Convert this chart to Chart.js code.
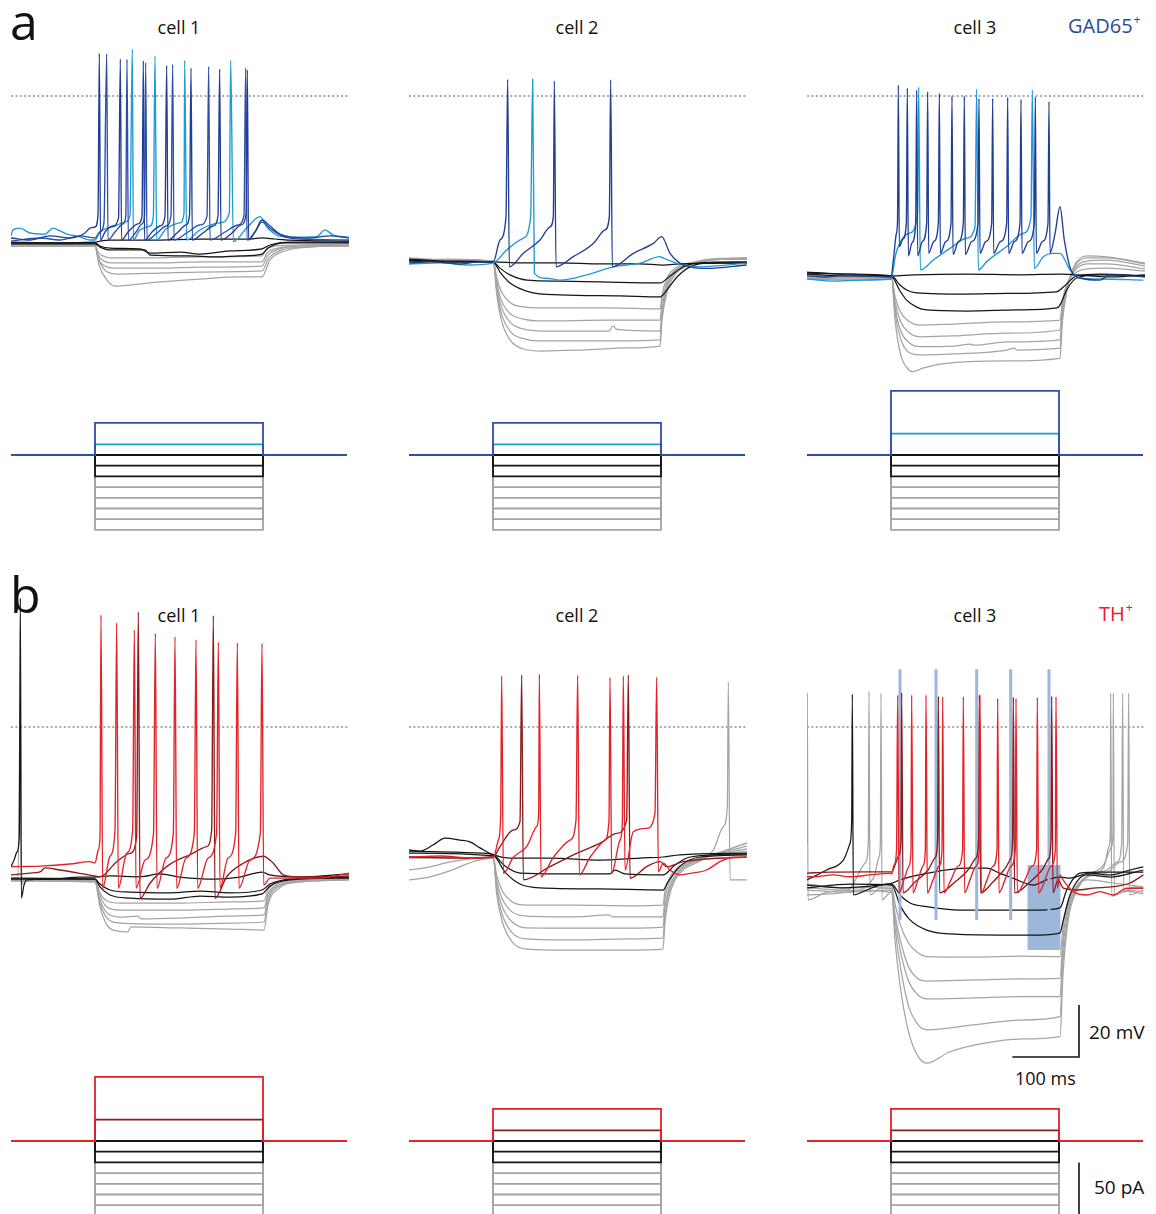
<!DOCTYPE html>
<html>
<head>
<meta charset="utf-8">
<title>Current-clamp responses of GAD65+ and TH+ cells</title>
<script src="https://cdn.jsdelivr.net/npm/chart.js@4.4.1/dist/chart.umd.min.js"></script>
<style>
  html, body { margin: 0; padding: 0; background: #fff; width: 1156px; height: 1214px; overflow: hidden; }
  body { position: relative; font-family: "Open Sans", "DejaVu Sans", sans-serif; color: #111; }
  canvas { position: absolute; }
  .lbl { position: absolute; white-space: nowrap; line-height: 1; }
  .sup { font-size: 0.62em; position: relative; top: -0.75em; margin-left: 1px; }
</style>
</head>
<body>
<div class="lbl" style="left:10px;top:-4px;font-size:50px">a</div>
<div class="lbl" style="left:10px;top:569px;font-size:50px">b</div>
<div class="lbl" style="left:179px;top:18px;font-size:18px;transform:translateX(-50%)">cell 1</div>
<div class="lbl" style="left:577px;top:18px;font-size:18px;transform:translateX(-50%)">cell 2</div>
<div class="lbl" style="left:975px;top:18px;font-size:18px;transform:translateX(-50%)">cell 3</div>
<div class="lbl" style="left:1068px;top:16px;font-size:20px;color:#2b4c9c">GAD65<span class="sup">+</span></div>
<div class="lbl" style="left:179px;top:606px;font-size:18px;transform:translateX(-50%)">cell 1</div>
<div class="lbl" style="left:577px;top:606px;font-size:18px;transform:translateX(-50%)">cell 2</div>
<div class="lbl" style="left:975px;top:606px;font-size:18px;transform:translateX(-50%)">cell 3</div>
<div class="lbl" style="left:1099px;top:604px;font-size:20px;color:#e42229">TH<span class="sup">+</span></div>
<div class="lbl" style="left:1089px;top:1023px;font-size:19px">20 mV</div>
<div class="lbl" style="left:1015px;top:1069px;font-size:18px">100 ms</div>
<div class="lbl" style="left:1094px;top:1178px;font-size:19px">50 pA</div>

<script>
// ---------------------------------------------------------------
// Sweep timing and injected current steps (pA)
// ---------------------------------------------------------------
const T_END = 507;                 // ms shown in each panel
const STEP_ON = 126, STEP_OFF = 378;
const graySteps  = [-30, -40, -50, -60, -70];
const blackSteps = [0, -10, -20];
const aTopSteps  = [30, 30, 60];   // dark blue sweep, cells 1-3
const aMidSteps  = [10, 10, 20];   // light blue sweep
const bTopSteps  = [60, 30, 30];   // red sweep
const bMidSteps  = [20, 10, 10];   // dark red sweep

// ---------------------------------------------------------------
// Membrane potential sweeps, flat [t (ms), Vm (mV), ...]
// ---------------------------------------------------------------
// GAD65+ cell 1
const a1Gray = [
  [0,-56.9, 126,-56.9, 130.5,-60, 138,-61.5, 148.5,-62.3, 208.5,-62.3, 283.5,-61.9, 376.5,-61.5, 382.5,-59.2, 396,-57.7, 433.5,-57.3, 507,-56.9],
  [0,-57.3, 126,-57.3, 130.5,-61.2, 139.5,-63.5, 151.5,-64.2, 223.5,-64.2, 283.5,-63.8, 376.5,-63.8, 384,-60.4, 400.5,-58.5, 433.5,-57.7, 507,-57.3],
  [0,-57.3, 126,-57.3, 130.5,-62.3, 141,-65.4, 156,-66.2, 223.5,-66.2, 283.5,-65.8, 376.5,-65.4, 385.5,-61.2, 403.5,-58.8, 433.5,-57.7, 507,-57.3],
  [0,-57.7, 126,-57.7, 132,-63.1, 142.5,-67.3, 160.5,-68.5, 223.5,-68.1, 283.5,-67.7, 376.5,-67.3, 387,-62.3, 406.5,-59.2, 441,-58.1, 507,-57.7],
  [0,-57.7, 126,-57.7, 132,-65, 144,-70.8, 156,-73.1, 178.5,-72.7, 223.5,-71.5, 283.5,-70.4, 343.5,-69.6, 376.5,-69.6, 388.5,-63.1, 411,-59.6, 448.5,-58.1, 507,-57.7]
];
const a1Black = [
  [0,-56.2, 58.5,-56.5, 126,-56.2, 133.5,-55.8, 148.5,-55.4, 208.5,-55.4, 283.5,-55, 358.5,-55, 376.5,-54.6, 396,-55, 418.5,-55.4, 507,-55.8],
  [0,-56.5, 126,-56.5, 133.5,-57.7, 148.5,-58.5, 193.5,-58.8, 208.5,-60.4, 253.5,-60, 283.5,-60.8, 328.5,-59.6, 376.5,-58.8, 388.5,-57.3, 418.5,-56.2, 507,-56.2],
  [0,-56.9, 126,-56.9, 133.5,-58.1, 148.5,-59.2, 201,-59.2, 208.5,-61.2, 268.5,-61.5, 306,-61.9, 343.5,-61.5, 376.5,-60.8, 385.5,-58.5, 411,-56.5, 507,-56.5]
];
const a1Blue = [
  [0,-54.6, 28.5,-55.4, 58.5,-53.8, 88.5,-54.6, 111,-52.7, 118.5,-50.8, 126,-50.4, 130.5,-45.8, 132.5,16.4, 134.3,-55.4,
   141,-52.3, 153,-50, 161.3,-46.9, 164,14.2, 165.8,-55.4, 175.5,-52.3, 190.5,-49.2, 196.5,-46.2, 198.5,13.5, 200.3,-55.4,
   211.5,-52.3, 223.5,-50, 231,-46.2, 233.5,11.7, 235.5,-55.4, 249,-52.7, 262.5,-49.6, 267.8,-45.8, 270,10.7, 272,-55.4,
   288,-52.7, 303,-50, 310.5,-46.2, 313,10.4, 315,-55.4, 331.5,-52.7, 345,-49.6, 352.5,-45.4, 354.5,10, 356.3,-55.4,
   366,-52.3, 376.5,-47.7, 388.5,-50, 403.5,-53.1, 418.5,-54.2, 448.5,-54.6, 478.5,-53.8, 507,-54.6],
  [0,-55.8, 43.5,-54.6, 73.5,-55.4, 103.5,-53.8, 126,-54.6, 133.5,-52.3, 139.5,-48.5, 143.5,16.2, 145.5,-55.4,
   156,-52.3, 168,-49.2, 172.2,-46.2, 174,14.2, 176,-55.4, 187.5,-52.3, 196.5,-49.2, 200.3,-46.2, 202,12.8, 204,-55.4,
   219,-52.7, 232.5,-50, 240,-46.2, 242.5,12.2, 244.5,-55.4, 265.5,-52.3, 283.5,-49.6, 294,-46.2, 296.5,11.3, 298.5,-55.4,
   321,-52.3, 340.5,-49.6, 349.5,-45.8, 352,10.7, 354,-55.4, 366,-52.3, 376.5,-48.5, 391.5,-51.5, 411,-54.2, 433.5,-55, 507,-55.4]
];
const a1Cyan = [
  [0,-53.8, 3,-51.5, 13.5,-50.8, 28.5,-52.7, 51,-53.1, 63,-50.8, 73.5,-51.9, 84,-53.1, 103.5,-54.2, 118.5,-55.4, 126,-55.4,
   133.5,-52.3, 156,-50, 171,-48.5, 178.5,-45.8, 182,18, 183.5,-55.4, 193.5,-51.5, 208.5,-50, 213.5,-46.4, 216,15.4, 218.5,-55.4,
   233.5,-50.8, 253.5,-48.8, 259.5,-45, 260.5,13.7, 263.5,-55.4, 283.5,-51.5, 313.5,-48.8, 327.5,-45, 329.5,13.7, 333.5,-56,
   353.5,-50.8, 373.5,-46.4, 383.5,-50.3, 398.5,-53.5, 418.5,-54.3, 458.5,-54.1, 471,-51.5, 483.5,-53.5, 506,-54.3]
];

// GAD65+ cell 2
const a2Gray = [
  [0,-63.1, 60,-62.7, 126.5,-63.5, 131.5,-69.8, 138.5,-75.2, 151.5,-79.4, 171.5,-81.1, 200,-81.5, 300,-81.5, 376.5,-81.9, 379.5,-76.5, 387,-70, 399,-66.2, 421.5,-64.2, 451.5,-63.1, 507,-62.7],
  [0,-62.7, 60,-63.1, 126.5,-63.5, 131.5,-71.5, 138.5,-78.5, 151.5,-83.6, 171.5,-85.8, 200,-86.5, 300,-86.2, 376.5,-86.2, 379.5,-79.2, 387,-71.5, 399,-67, 421.5,-64.6, 451.5,-63.1, 507,-62.3],
  [0,-62.3, 60,-63.1, 126.5,-63.5, 131.5,-73, 138.5,-81, 151.5,-87, 171.5,-89.6, 200,-90.4, 300,-90.4, 306,-88.5, 312,-89.8, 376.5,-90.4, 379.5,-82.2, 387,-72.9, 399,-67.5, 421.5,-64.6, 451.5,-62.7, 507,-62.3],
  [0,-62.7, 60,-63.5, 126.5,-63.8, 131.5,-74.6, 138.5,-83.6, 151.5,-90.4, 171.5,-93.3, 200,-94.2, 300,-94.2, 376.5,-93.8, 379.5,-84.6, 387,-74.2, 399,-68.1, 421.5,-64.6, 451.5,-63.1, 507,-62.7],
  [0,-63.1, 60,-63.8, 126.5,-63.8, 131.5,-76, 138.5,-86.2, 151.5,-93.8, 171.5,-97.3, 200,-98.1, 260,-97.7, 330,-96.9, 376.5,-96.2, 379.5,-86.2, 387,-75.4, 399,-68.8, 421.5,-65, 451.5,-63.1, 507,-62.7]
];
const a2Black = [
  [0,-63.5, 61.5,-63.8, 126,-63.8, 166.5,-64.2, 226.5,-64.2, 286.5,-64.6, 346.5,-64.6, 381,-65, 406.5,-64.6, 507,-64.2],
  [0,-62.7, 61.5,-63.5, 126,-63.8, 136.5,-66.2, 151.5,-68.8, 177,-70.8, 226.5,-71.2, 286.5,-71.5, 376.5,-71.9, 391.5,-69.2, 414,-65.4, 436.5,-64.2, 507,-63.8],
  [0,-63.1, 61.5,-63.8, 126,-63.8, 136.5,-67.7, 151.5,-71.9, 181.5,-75.4, 226.5,-76.5, 316.5,-76.9, 376.5,-77.3, 387,-74.6, 402,-69.6, 421.5,-65.7, 451.5,-64.2, 507,-64.2]
];
const a2Blue = [
  [0,-64.2, 31.5,-63.8, 76.5,-64.6, 106.5,-63.8, 126.5,-63.8, 136.5,-55.4, 145.5,-46.4, 148,6.4, 150.5,-65.7,
   171.5,-60.5, 196.5,-55.4, 211.5,-50.3, 216.5,-46.4, 218,5.8, 220.5,-65.7, 246.5,-61.8, 276.5,-56.7, 294,-51.5, 300.5,-46.4,
   302.5,6.2, 305,-65.7, 336.5,-60.5, 366.5,-56.7, 379,-54.1, 391.5,-60.5, 406.5,-64.3, 421.5,-65.7, 446.5,-66.3, 506.5,-65]
];
const a2Cyan = [
  [0,-64.6, 46.5,-64.2, 91.5,-65, 126.5,-64.2, 146.5,-59.2, 171.5,-54.7, 182.5,-46.4, 185.5,6.5, 188,-68.2, 206.5,-70.1,
   226.5,-70.8, 266.5,-68.8, 306.5,-65.7, 346.5,-64.3, 376.5,-61.8, 381,-62.3, 411.5,-65, 436.5,-65.7, 506.5,-64.3]
];

// GAD65+ cell 3
const a3Gray = [
  [0,-69.2, 60,-69.6, 127,-69.6, 132,-77, 140,-83, 152,-86.5, 170,-88.1, 220,-87.7, 300,-86.9, 379.5,-86.2, 383,-79, 390,-72, 400,-68.5, 420,-66.5, 450,-66.2, 507,-67.3],
  [0,-69.6, 60,-70, 127,-69.6, 132,-79, 140,-86.5, 152,-90.8, 170,-92.6, 220,-92.3, 300,-91.2, 379.5,-90, 383,-81, 390,-73, 400,-67.7, 420,-64.6, 450,-64.6, 507,-66.5],
  [0,-68.8, 60,-69.6, 127,-70, 132,-81, 140,-90, 152,-94.6, 170,-96.4, 220,-96.2, 245,-95.4, 250,-95.8, 300,-94.6, 379.5,-93.8, 383,-83, 390,-73.5, 400,-66.9, 420,-63.5, 450,-63.1, 507,-65.4],
  [0,-70, 60,-70.4, 127,-70, 132,-83, 140,-93, 152,-98.5, 170,-99.6, 220,-99.2, 300,-97.7, 310,-97, 315,-97.7, 379.5,-97, 383,-85, 390,-74.2, 400,-66.2, 420,-62.3, 450,-62.3, 507,-64.6],
  [0,-70.4, 60,-70.8, 127,-70.4, 132,-86, 140,-99, 150,-104.6, 158,-106, 175,-104.6, 200,-103.1, 300,-101.9, 379.5,-100.9, 383,-87, 390,-75, 400,-65.8, 420,-61.5, 450,-61.9, 507,-64.2]
];
const a3Black = [
  [0,-68.1, 60,-68.5, 127,-69.2, 160,-68.8, 240,-68.5, 320,-68.8, 379.5,-68.5, 404.5,-68.8, 460,-69.6, 507,-68.8],
  [0,-67.7, 60,-68.5, 127,-69.2, 139.5,-72.7, 149.5,-74.6, 164.5,-75.7, 239.5,-76.2, 300,-75.9, 374.5,-75.3, 384.5,-73.5, 404.5,-69.2, 440,-68.5, 507,-69.2],
  [0,-68.5, 60,-69.2, 127,-69.6, 139.5,-75, 149.5,-78.5, 164.5,-81.2, 179.5,-82.3, 239.5,-82.7, 314.5,-82.3, 374.5,-81.5, 379.5,-80.4, 389.5,-74.6, 404.5,-70, 440,-68.8, 507,-69.2]
];
const a3Blue = [
  [0,-69.2, 30,-69.6, 60,-68.8, 90,-69.2, 126,-69.6, 130,-62, 134,-53, 135.8,-48, 137,4.2, 138.5,-58,
   144,-55, 149,-49, 150.5,3, 152,-61.5, 157.5,-56.5, 163,-49, 164.5,2.3, 166,-61.5,
   173,-56, 179.5,-49, 181,1.7, 182.5,-60.5, 190,-56, 197,-49, 198.5,1, 200,-60.5,
   208,-56, 216,-49, 217.5,0, 219,-61, 227,-56, 234.5,-49, 236,0, 237.5,-61,
   247,-56, 256.5,-49, 258,-0.9, 259.5,-60.5, 268,-56, 277,-49, 278.5,-0.9, 280,-60.5,
   290,-56, 299.5,-49, 301,-0.5, 302.5,-60.5, 311,-56, 319.5,-49, 321,-1.3, 322.5,-60.5,
   332,-56, 341,-49, 342.5,-0.3, 344,-60.5, 353,-56, 361.5,-49, 363,-2.2, 364.5,-60.5,
   372,-53, 379.5,-42.6, 386,-55.4, 396,-66.9, 411,-70.1, 439.5,-70.8, 454.5,-68.8, 507,-69.6]
];
const a3Cyan = [
  [0,-70.4, 40,-71.2, 80,-70.8, 126,-70.4, 133.5,-60.5, 153.5,-52.8, 166,-45, 167.5,3.4, 170,-66.9,
   189.5,-63.1, 214.5,-58.6, 239.5,-54.7, 252,-50.3, 254.5,2.7, 257,-66.9, 269.5,-63.7, 299.5,-57.9, 324.5,-52.8, 336,-46.4,
   338,2.3, 341,-66.3, 354.5,-61.8, 369.5,-60.5, 379.5,-60.5, 394.5,-66.9, 409.5,-70.1, 439.5,-70.4, 504.5,-70.8]
];

// TH+ cell 1
const b1Gray = [
  [0,-58.1, 10.5,-58.1, 14,10.4, 15.5,-60.8, 21,-58.5, 126,-58.5, 133.5,-63.8, 144,-66.9, 163.5,-67.7, 253.5,-67.7, 328.5,-67.3, 379.5,-66.9, 385.5,-62.7, 400.5,-59.6, 433.5,-58.5, 507,-57.7],
  [0,-58.5, 126,-58.8, 133.5,-65, 144,-69.2, 163.5,-70.4, 253.5,-70.4, 328.5,-70, 379.5,-69.6, 385.5,-64.2, 400.5,-60.4, 433.5,-58.8, 507,-58.1],
  [0,-58.8, 126,-59.2, 133.5,-66.5, 144,-71.5, 163.5,-73.1, 190,-72.7, 195,-73.8, 253.5,-73.5, 328.5,-72.7, 379.5,-72.3, 385.5,-65.4, 400.5,-61, 433.5,-59.2, 507,-58.5],
  [0,-59.2, 126,-59.6, 133.5,-67.7, 144,-73.5, 163.5,-75.4, 253.5,-75.8, 328.5,-75.4, 379.5,-75, 385.5,-66.9, 400.5,-61.5, 433.5,-59.6, 507,-58.8],
  [0,-59.2, 126,-59.6, 133.5,-69.2, 144,-76.2, 160,-78.5, 175,-78.8, 180,-76.9, 253.5,-77.3, 328.5,-77.7, 379.5,-78.1, 385.5,-68.5, 400.5,-62.3, 433.5,-59.6, 507,-58.8]
];
const b1Black = [
  [0,-53.7, 4.5,-51.2, 9,-48.1, 12.5,-41.5, 14,49.6, 15.5,-65.8, 19.5,-60.8, 24,-58.8, 58.5,-58.5, 103.5,-57.7, 126,-57.7, 148.5,-57.3, 193.5,-57.6, 223.5,-56.5, 253.5,-57.7, 306,-58.5, 343.5,-57.7, 376.5,-55.8, 388.5,-56.9, 433.5,-57.7, 507,-56.5],
  [0,-58.1, 126,-58.5, 133.5,-60.4, 148.5,-62.7, 178.5,-63.5, 238.5,-63.8, 283.5,-63.1, 328.5,-63.8, 376.5,-62.7, 388.5,-60.4, 418.5,-58.5, 507,-57.7],
  [0,-58.5, 126,-58.5, 133.5,-61.5, 148.5,-64.6, 178.5,-65.8, 238.5,-66.2, 283.5,-65, 328.5,-65.4, 376.5,-64.2, 388.5,-61.2, 418.5,-58.8, 507,-58.1]
];
const b1Red = [
  [0,-53.7, 43.5,-53.5, 88.5,-52.7, 118.5,-51.8, 126,-52.3, 131,-47.3, 133.5,-42.2, 135,43.1, 137.5,-62,
   148.5,-49.7, 156,-39.6, 158.5,40.1, 161,-62, 173.5,-48.6, 182.5,-39.6, 185,37.3, 187.5,-62,
   201,-51.2, 213.8,-40.8, 216.5,36, 219,-62, 232.5,-50.4, 243.5,-40.8, 246,34.7, 248.5,-62,
   262.5,-50.4, 275,-40.8, 277.5,33.5, 280,-62, 295.5,-50.4, 308.4,-40.8, 311,32.6, 313.5,-62,
   325.5,-50.4, 337,-40.8, 339.5,32.4, 342,-62, 358.5,-51.2, 374,-40.8, 376.5,32.2, 379,-60.8,
   388.5,-58.1, 418.5,-58.1, 463.5,-58.1, 507,-56.2]
];
const b1Maroon = [
  [0,-56.9, 28.5,-56.2, 43.5,-55.7, 51,-54.2, 73.5,-55, 126,-57.3, 133.5,-57.6, 158.5,-51.8, 178.5,-48.6, 188.5,-42.2,
   191,44.3, 193.5,-65.9, 208.5,-60.1, 233.5,-53.7, 263.5,-49.7, 293.5,-46, 301,-39.6, 303.5,42.8, 306,-65.9,
   323.5,-57.6, 348.5,-52.4, 378.5,-49.7, 393.5,-52.4, 408.5,-56.9, 433.5,-57.7, 507,-57.3]
];

// TH+ cell 2
const b2Gray = [
  [0,-50, 60,-50.4, 126.5,-50, 131.5,-57, 140,-63, 155,-67.3, 176.5,-68.5, 250,-68.5, 330,-68.8, 381,-68.5, 384,-63, 391.5,-57.7, 406.5,-53.5, 436.5,-50.4, 507,-47.7],
  [0,-55, 30,-53.9, 60,-52, 100,-50.4, 126.5,-50, 131.5,-59, 140,-66.2, 155,-71.2, 176.5,-72.7, 250,-73, 300,-72.3, 305,-73, 381,-73, 384,-66, 391.5,-59.2, 406.5,-54.2, 436.5,-50.4, 507,-46.9],
  [0,-58.8, 30,-57.7, 60,-55.4, 100,-51.5, 126.5,-50.4, 131.5,-61, 140,-69.2, 155,-75, 176.5,-77.3, 250,-77.4, 330,-77.4, 381,-77, 384,-69, 391.5,-61, 406.5,-55, 436.5,-50.8, 507,-45.8],
  [0,-50.4, 126.5,-50.4, 131.5,-62.7, 140,-72.3, 155,-79.2, 176.5,-81.5, 250,-81.9, 330,-81.5, 381,-81.2, 384,-72, 391.5,-62.5, 406.5,-55.4, 436.5,-51.2, 507,-44.6],
  [0,-50, 126.5,-50.4, 131.5,-64.2, 140,-75, 155,-82.7, 176.5,-85.4, 250,-85.8, 330,-85.8, 381,-85.4, 384,-75, 391.5,-64, 406.5,-56.2, 436.5,-51.5, 456.5,-47.3, 471.5,-38.3, 477.5,-30.7, 479,17.4, 481.5,-58.8, 506.5,-58.8]
];
const b2Black = [
  [0,-47.3, 16.5,-47.7, 36,-45.4, 54,-42.7, 76.5,-43.5, 91.5,-44.2, 106.5,-46.5, 126.5,-49.2, 151.5,-50.4, 211.5,-50.4, 286.5,-51.2, 346.5,-50.4, 381,-50, 406.5,-49.2, 507,-48.5],
  [0,-47.7, 106.5,-48.5, 126.5,-49.2, 144,-53.5, 166.5,-56.2, 226.5,-56.5, 301.5,-56.5, 309,-55, 324,-56.5, 381,-56.9, 399,-53.1, 421.5,-50, 507,-48.8],
  [0,-48.5, 126.5,-49.6, 144,-55.8, 166.5,-60.4, 196.5,-61.9, 286.5,-62.3, 381,-62.7, 388.5,-59.6, 406.5,-53.5, 436.5,-50, 507,-49.2]
];
const b2Red = [
  [0,-50, 46.5,-49.6, 91.5,-50.4, 126.5,-50.1, 134,-43.5, 137.5,-34.5, 139,19.6, 141.5,-56.3, 156.5,-50.1, 176.5,-46,
   191.5,-38.3, 194.5,-33.2, 195.5,20.3, 198,-57.6, 216.5,-50.1, 241.5,-43.5, 250.5,-35.8, 253,19.9, 255.5,-56.9,
   271.5,-50.1, 294,-43.5, 300,-35.8, 301.5,19.1, 304,-56.3, 316.5,-43.5, 320,-37, 321.5,19.6, 324,-55,
   336.5,-40.3, 356.5,-39, 369,-33.2, 371.5,19.1, 374,-55.7, 381.5,-52.4, 391.5,-55, 406.5,-56.9, 421.5,-56.3,
   446.5,-55, 466.5,-51.8, 486.5,-50.1, 506.5,-50.1]
];
const b2Maroon = [
  [0,-50, 76.5,-50.4, 126.5,-50, 136.5,-46, 156.5,-39.6, 166.5,-36.4, 169,20, 171.5,-58.8, 211.5,-53.7, 251.5,-48.6,
   286.5,-44.7, 311.5,-40.9, 326.5,-35.8, 329,20, 331.5,-58.2, 356.5,-53.7, 376.5,-51.8, 386.5,-53.7, 411.5,-51.8, 506.5,-50]
];

// TH+ cell 3
const b3Gray = [
  [0,-60.4, 60,-61.9, 127,-61.5, 132,-68, 140,-76, 152,-83, 165,-86.5, 180,-88.3, 250,-88.5, 320,-88.1, 379.5,-88.3, 384,-77, 392,-67, 405,-61, 420,-58.8, 460,-60, 504.5,-61.5],
  [0,-62.7, 60,-63.5, 127,-62.7, 132,-72, 140,-82, 152,-92, 165,-96.5, 180,-97.7, 250,-97.3, 320,-96.9, 379.5,-96.7, 384,-81, 392,-68.5, 405,-61, 420,-57.7, 450,-56, 470,-52, 481,-45, 482.5,13, 484,-64.6, 504.5,-62.7],
  [0,-61.9, 60,-62.7, 88,-52, 92,-44, 93,13.8, 94.5,-64.6, 110,-62, 127,-62.3, 132,-74, 140,-86, 152,-97.5, 165,-102.7, 180,-104.6, 250,-104.2, 320,-103.7, 379.5,-103.7, 384,-85, 392,-70, 405,-61.5, 420,-57.3, 450,-55, 465,-52, 472,-45, 473.5,13, 475,-63.5, 490,-61.5, 504.5,-61.9],
  [0,-64.6, 60,-63.5, 100,-58, 108,-50, 110,-45, 111,13, 112.5,-66.5, 127,-63.1, 132,-77, 140,-92, 152,-107, 165,-114, 180,-116.5, 250,-114.6, 320,-112.7, 379.5,-111.4, 384,-90, 392,-72, 405,-62, 420,-57.3, 445,-53, 457,-46, 459,-40, 459.5,13, 461,-64.6, 480,-62.7, 504.5,-63.5],
  [0,-45, 0.5,13.2, 1.5,-66.5, 30,-63.5, 80,-62.7, 127,-63.8, 132,-82, 140,-100, 152,-117, 165,-126, 179.5,-129.3, 214.5,-124.9, 264,-121.7, 320,-120, 379.5,-119.1, 384,-95, 392,-74, 405,-63, 420,-57.7, 445,-54, 453,-46, 455,-40, 455.5,13, 457,-65, 480,-63.1, 504.5,-64.2]
];
const b3Black = [
  [0,-58.8, 29.5,-55, 54.5,-51.2, 64.5,-44.7, 67,-35.8, 68,12.6, 69.5,-64.6, 89.5,-62.7, 109.5,-60.8, 127,-60.1, 139.5,-58.8, 179.5,-56.3, 239.5,-54.3, 269.5,-54.3, 289.5,-56.3, 309.5,-58.2, 339.5,-60.8, 359.5,-58.8, 379.5,-57.7, 394.5,-58.1, 424.5,-56.2, 454.5,-56.9, 484.5,-55, 504.5,-53.8],
  [0,-60.8, 49.5,-61.9, 94.5,-61.2, 127,-60.4, 139.5,-64.6, 154.5,-67.7, 179.5,-69.1, 229.5,-70.4, 289.5,-70.4, 349.5,-70.4, 379.5,-69.6, 389.5,-62.7, 409.5,-56.2, 439.5,-55.8, 504.5,-55.8],
  [0,-61.9, 64.5,-60.4, 127,-60.8, 139.5,-68.5, 154.5,-74.2, 179.5,-78.1, 214.5,-79.6, 289.5,-80, 349.5,-80, 379.5,-79.2, 384.5,-74.2, 394.5,-64.6, 419.5,-56.9, 454.5,-57.7, 504.5,-55]
];
const b3Red = [
  [0,-57.6, 10,-57.6, 39.5,-56.9, 64.5,-57.6, 94.5,-56.9, 124.5,-56.3, 127,-56.5, 130.5,-53.1, 134.3,-47.3, 136,12.3, 138,-63.8,
   145.5,-58.8, 153,-53.5, 156,-47.3, 157,12.3, 159,-63.8, 166.5,-58.8, 174,-53.5, 177.5,-47.3, 178.5,12.3, 180.5,-63.8,
   189,-58.8, 198,-53.5, 202.5,-47.3, 203.5,11.7, 205.5,-63.8, 216,-58.8, 226.5,-53.5, 233.4,-47.3, 234.5,11.7, 236.4,-63.8,
   244.5,-58.8, 253.5,-53.5, 258.5,-47.3, 259.5,12.3, 261.5,-63.8, 270,-58.8, 279,-53.5, 285,-47.3, 286,11, 288,-63.8,
   297,-58.8, 306,-53.5, 312.5,-47.3, 313.5,11, 315.5,-63.8, 327,-58.8, 337.5,-53.5, 344.4,-47.3, 345.5,11.4, 347.4,-63.8,
   357,-58.8, 366,-53.5, 372.5,-47.3, 373.5,11.7, 375.5,-61.9, 379.5,-56.9, 384,-58.8, 399.5,-63.3, 419.5,-64.6,
   439.5,-63.3, 459.5,-64.6, 479.5,-62, 504.5,-62]
];
const b3Maroon = [
  [0,-56.2, 34.5,-55.8, 90,-55.7, 124.5,-55.7, 127,-55.8, 132,-53.1, 138,-49.2, 141,-43.5, 142,13.2, 144,-63.8,
   162,-59.6, 181.5,-55, 192,-50.4, 195.9,-43.5, 197,11.9, 198.9,-63.8, 222,-59.6, 241.5,-55, 253.5,-50.4, 257.4,-43.5,
   258.5,12.3, 260.4,-63.8, 279,-59.6, 295.5,-55, 306,-50.4, 308.4,-43.5, 309.5,11.5, 311.4,-63.8, 334.5,-59.6,
   352.5,-55, 363,-50.4, 366,-43.5, 367,11.9, 369,-63.8, 376.5,-58.8, 384.5,-62, 404.5,-62.7, 429.5,-62, 459.5,-61.4,
   484.5,-60, 504.5,-56.9]
];
// Light-pulse times (ms) and analysis window [t0, t1, Vtop, Vbottom]
const b3Pulses = [139.5, 193.5, 254.5, 305.5, 363];
const b3PulseSpan = [22.2, -74.2];
const b3Window = [330.5, 380.5, -53.1, -85.8];

// Scale bars
const barMs = 100, barMv = 20, barPa = 50;

// ---------------------------------------------------------------
// Layout (pixels) and drawing helpers
// ---------------------------------------------------------------
const MV_PX = 2.6, PA_PX = 1.07, PANEL_W = 338;
const COL_LEFT = [11, 409, 807];
const ROW_A_V = { top: 44,   height: 338, zero: 96 };
const ROW_B_V = { top: 584,  height: 484, zero: 727 };
const ROW_A_I = { top: 380,  height: 161, zero: 455 };
const ROW_B_I = { top: 1064, height: 160, zero: 1141 };

const GRAY = '#a4a4a4', BLACK = '#151515', NAVY = '#203e94', NAVY2 = '#2e4ea8',
      CYAN = '#1d9ad8', RED = '#e42229', MAROON = '#8c1b1b', PULSE = '#9cb7da', DOT = '#8e8e8e';

function toXY(flat) {
  const pts = [];
  for (let i = 0; i < flat.length; i += 2) pts.push({ x: flat[i], y: flat[i + 1] });
  return pts;
}
function trace(flat, color, order, width) {
  return { data: toXY(flat), borderColor: color, borderWidth: width || 1.25, pointRadius: 0,
           cubicInterpolationMode: 'monotone', fill: false, order: order };
}
function straight(pts, color, width, order, extra) {
  return Object.assign({ data: pts, borderColor: color, borderWidth: width, pointRadius: 0,
                         tension: 0, fill: false, order: order }, extra || {});
}
function stepTrace(level, color, order) {
  const pts = [{x: 0, y: 0}, {x: STEP_ON, y: 0}, {x: STEP_ON, y: level},
               {x: STEP_OFF, y: level}, {x: STEP_OFF, y: 0}, {x: T_END - 3, y: 0}];
  return straight(pts, color, 1.8, order);
}

function makeChart(col, row, unitPx, datasets) {
  const c = document.createElement('canvas');
  const left = COL_LEFT[col];
  c.width = PANEL_W; c.height = row.height;
  c.style.left = left + 'px'; c.style.top = row.top + 'px';
  c.style.width = PANEL_W + 'px'; c.style.height = row.height + 'px';
  document.body.appendChild(c);
  const yMax = (row.zero - row.top) / unitPx;
  const yMin = yMax - row.height / unitPx;
  return new Chart(c, {
    type: 'line',
    data: { datasets: datasets },
    options: {
      responsive: false, animation: false, devicePixelRatio: 1, events: [],
      layout: { padding: 0 },
      plugins: { legend: { display: false }, tooltip: { enabled: false } },
      scales: {
        x: { type: 'linear', min: 0, max: T_END, display: false },
        y: { type: 'linear', min: yMin, max: yMax, display: false }
      }
    }
  });
}

function voltageSets(gray, black, mid, top, midColor, topColors) {
  const sets = [straight([{x: 0, y: 0}, {x: T_END, y: 0}], DOT, 1.5, 30, { borderDash: [2, 2.4] })];
  gray.forEach(t => sets.push(trace(t, GRAY, 20)));
  black.forEach(t => sets.push(trace(t, BLACK, 12)));
  mid.forEach(t => sets.push(trace(t, midColor, 4, 1.35)));
  top.forEach((t, i) => sets.push(trace(t, topColors[i % topColors.length], 2 + i, 1.35)));
  return sets;
}
function currentSets(topLevel, midLevel, topColor, midColor) {
  const sets = [];
  graySteps.forEach(l => sets.push(stepTrace(l, GRAY, 20)));
  blackSteps.forEach(l => sets.push(stepTrace(l, BLACK, 12)));
  sets.push(stepTrace(midLevel, midColor, 4));
  sets.push(stepTrace(topLevel, topColor, 2));
  return sets;
}

// ---------------------------------------------------------------
// GAD65+ row
// ---------------------------------------------------------------
makeChart(0, ROW_A_V, MV_PX, voltageSets(a1Gray, a1Black, a1Cyan, a1Blue, CYAN, [NAVY, NAVY2]));
makeChart(1, ROW_A_V, MV_PX, voltageSets(a2Gray, a2Black, a2Cyan, a2Blue, CYAN, [NAVY]));
makeChart(2, ROW_A_V, MV_PX, voltageSets(a3Gray, a3Black, a3Cyan, a3Blue, CYAN, [NAVY]));
for (let c = 0; c < 3; c++) {
  makeChart(c, ROW_A_I, PA_PX, currentSets(aTopSteps[c], aMidSteps[c], NAVY2, CYAN));
}

// ---------------------------------------------------------------
// TH+ row
// ---------------------------------------------------------------
makeChart(0, ROW_B_V, MV_PX, voltageSets(b1Gray, b1Black, b1Maroon, b1Red, MAROON, [RED]));
makeChart(1, ROW_B_V, MV_PX, voltageSets(b2Gray, b2Black, b2Maroon, b2Red, MAROON, [RED]));

const b3Sets = voltageSets(b3Gray, b3Black, b3Maroon, b3Red, MAROON, [RED]);
// analysis window, drawn beneath the black sweeps
b3Sets.push(straight([{x: b3Window[0], y: b3Window[2]}, {x: b3Window[1], y: b3Window[2]}],
  'rgba(0,0,0,0)', 0, 15, { fill: { value: b3Window[3] }, backgroundColor: PULSE }));
// light pulses
b3Pulses.forEach(t => b3Sets.push(straight([{x: t, y: b3PulseSpan[0]}, {x: t, y: b3PulseSpan[1]}], PULSE, 3, 8)));
// 100 ms / 20 mV scale bar
const sbT = 408, sbV = -126.9;
b3Sets.push(straight([{x: sbT - barMs, y: sbV}, {x: sbT, y: sbV}, {x: sbT, y: sbV + barMv}], BLACK, 1.6, 1));
makeChart(2, ROW_B_V, MV_PX, b3Sets);

for (let c = 0; c < 3; c++) {
  const sets = currentSets(bTopSteps[c], bMidSteps[c], RED, MAROON);
  if (c === 2) {
    // 50 pA scale bar
    sets.push(straight([{x: sbT, y: -20}, {x: sbT, y: -20 - barPa}], BLACK, 1.6, 1));
  }
  makeChart(c, ROW_B_I, PA_PX, sets);
}
</script>
</body>
</html>
